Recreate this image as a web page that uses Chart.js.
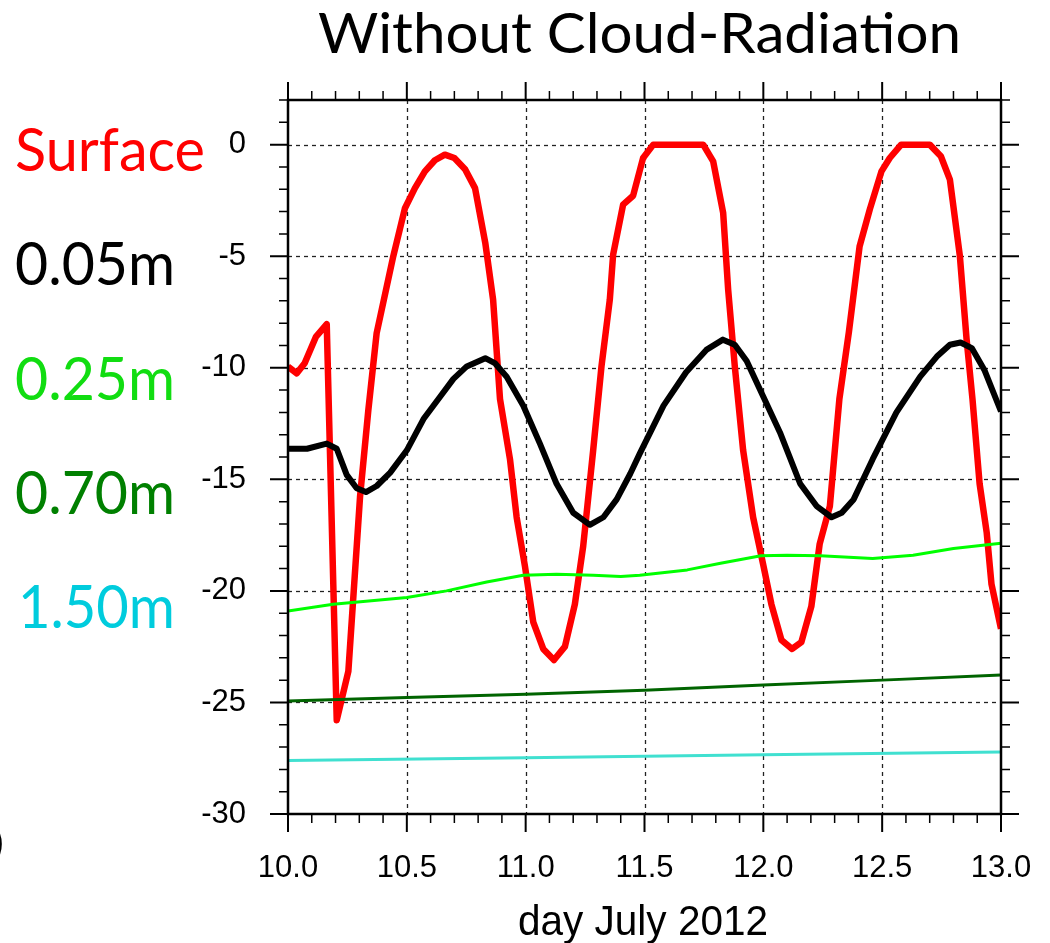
<!DOCTYPE html>
<html>
<head>
<meta charset="utf-8">
<script src="https://cdn.jsdelivr.net/npm/chart.js@4.4.1/dist/chart.umd.min.js"></script>
<style>
  html, body { margin: 0; padding: 0; background: #fff; overflow: hidden; }
  #box { position: relative; width: 1050px; height: 943px; }
  #tempChart { display: block; }
</style>
</head>
<body>
<div id="box"><canvas id="tempChart"></canvas></div>
<script>
// temperature at each depth, day of July 2012
const surfaceDay = [10.000, 10.037, 10.070, 10.118, 10.163, 10.205, 10.254, 10.303, 10.338, 10.373,
  10.443, 10.492, 10.534, 10.576, 10.618, 10.660, 10.700, 10.745, 10.787, 10.830, 10.863, 10.892,
  10.934, 10.962, 10.997, 11.032, 11.074, 11.119, 11.165, 11.207, 11.242, 11.284, 11.319, 11.354,
  11.368, 11.410, 11.452, 11.494, 11.537, 11.747, 11.789, 11.831, 11.852, 11.880, 11.915, 11.957,
  11.999, 12.034, 12.076, 12.121, 12.160, 12.202, 12.237, 12.280, 12.320, 12.360, 12.405, 12.448,
  12.497, 12.532, 12.580, 12.700, 12.747, 12.785, 12.827, 12.855, 12.880, 12.910, 12.940, 12.960, 13.000];
const surfaceTemp = [-9.95, -10.25, -9.8, -8.6, -8.05, -25.8, -23.6, -15.8, -11.9, -8.45,
  -5.0, -2.85, -1.95, -1.2, -0.7, -0.45, -0.6, -1.1, -1.95, -4.4, -6.95, -11.4,
  -14.1, -16.7, -18.9, -21.4, -22.6, -23.1, -22.5, -20.6, -18.0, -13.7, -9.94, -6.95,
  -4.93, -2.69, -2.29, -0.6, 0, 0, -0.75, -3.06, -6.5, -9.94, -13.7, -16.7,
  -18.8, -20.6, -22.2, -22.6, -22.3, -20.7, -17.9, -16.2, -11.4, -8.4, -4.56, -2.9,
  -1.2, -0.6, 0, 0, -0.52, -1.57, -5.0, -8.7, -11.4, -15.2, -17.4, -19.7, -21.7];

const depth005Day = [10.000, 10.080, 10.163, 10.205, 10.247, 10.289, 10.328, 10.373, 10.430, 10.500,
  10.570, 10.640, 10.696, 10.752, 10.830, 10.870, 10.920, 10.990, 11.060, 11.130, 11.200, 11.270,
  11.327, 11.383, 11.440, 11.480, 11.580, 11.675, 11.760, 11.830, 11.880, 11.930, 12.000, 12.070,
  12.155, 12.224, 12.287, 12.330, 12.380, 12.460, 12.560, 12.660, 12.730, 12.785, 12.830, 12.877,
  12.930, 13.000];
const depth005Temp = [-13.63, -13.63, -13.4, -13.63, -14.8, -15.4, -15.57, -15.3, -14.7, -13.7,
  -12.3, -11.3, -10.5, -9.94, -9.57, -9.79, -10.4, -11.7, -13.4, -15.2, -16.5, -17.04,
  -16.7, -15.9, -14.75, -13.85, -11.7, -10.2, -9.2, -8.74, -8.97, -9.7, -11.3, -12.9,
  -15.2, -16.2, -16.7, -16.5, -15.9, -14.1, -12.0, -10.4, -9.5, -8.97, -8.87, -9.12,
  -10.1, -11.96];

const depth025Day = [10.00, 10.19, 10.50, 10.667, 10.836, 10.99, 11.13, 11.284, 11.40, 11.48, 11.68,
  11.82, 11.99, 12.10, 12.24, 12.46, 12.63, 12.80, 13.00];
const depth025Temp = [-20.9, -20.6, -20.3, -20.0, -19.6, -19.3, -19.25, -19.3, -19.36, -19.3, -19.06,
  -18.76, -18.43, -18.4, -18.43, -18.55, -18.4, -18.1, -17.86];

const depth070Day = [10.0, 10.5, 11.0, 11.5, 12.0, 12.5, 13.0];
const depth070Temp = [-24.93, -24.78, -24.63, -24.45, -24.22, -24.0, -23.77];

const depth150Day = [10.0, 11.0, 12.0, 13.0];
const depth150Temp = [-27.6, -27.48, -27.35, -27.22];

const seriesNames = ['Surface', '0.05m', '0.25m', '0.70m', '1.50m'];
const xMajor = [10, 10.5, 11, 11.5, 12, 12.5, 13];
const yMajor = [0, -5, -10, -15, -20, -25, -30];
const chartTitle = 'Without Cloud-Radiation';
const xTitle = 'day July 2012';

const pts = (xs, ys) => xs.map((x, i) => ({ x: x, y: ys[i] }));

// draw text squeezed or stretched to a given width
function fitText(ctx, text, x, y, width, font, color) {
  ctx.save();
  ctx.font = font;
  const w = ctx.measureText(text).width;
  ctx.translate(x, y);
  ctx.scale(width / w, 1);
  ctx.fillStyle = color;
  ctx.textBaseline = 'alphabetic';
  ctx.textAlign = 'left';
  ctx.fillText(text, 0, 0);
  ctx.restore();
}

const frameAndLabels = {
  id: 'frameAndLabels',
  beforeDatasetsDraw(chart) {
    const { ctx, chartArea: a, scales: { x, y } } = chart;
    ctx.save();
    ctx.strokeStyle = '#222';
    ctx.lineWidth = 1.3;
    ctx.setLineDash([4, 4]);
    xMajor.slice(1, -1).forEach(v => {
      const px = Math.round(x.getPixelForValue(v)) + 0.5;
      ctx.beginPath(); ctx.moveTo(px, a.top); ctx.lineTo(px, a.bottom); ctx.stroke();
    });
    yMajor.slice(0, -1).forEach(v => {
      const py = Math.round(y.getPixelForValue(v)) + 0.5;
      ctx.beginPath(); ctx.moveTo(a.left, py); ctx.lineTo(a.right, py); ctx.stroke();
    });
    ctx.restore();
  },
  afterDatasetsDraw(chart) {
    const { ctx, chartArea: a, scales: { x, y } } = chart;
    ctx.save();
    ctx.strokeStyle = '#000';
    ctx.setLineDash([]);
    // tick marks, all pointing outward
    for (let i = 0; i <= 30; i++) {
      const v = 10 + i * 0.1;
      const major = i % 5 === 0;
      const len = major ? 18 : 9;
      const px = x.getPixelForValue(v);
      ctx.lineWidth = major ? 2 : 1.5;
      ctx.beginPath();
      ctx.moveTo(px, a.bottom); ctx.lineTo(px, a.bottom + len);
      ctx.moveTo(px, a.top); ctx.lineTo(px, a.top - len);
      ctx.stroke();
    }
    for (let v = 2; v >= -30; v--) {
      const major = v % 5 === 0;
      const len = major ? 18 : 9;
      const py = y.getPixelForValue(v);
      ctx.lineWidth = major ? 2 : 1.5;
      ctx.beginPath();
      ctx.moveTo(a.left, py); ctx.lineTo(a.left - len, py);
      ctx.moveTo(a.right, py); ctx.lineTo(a.right + len, py);
      ctx.stroke();
    }
    ctx.lineWidth = 2.5;
    ctx.strokeRect(a.left, a.top, a.right - a.left, a.bottom - a.top);
    ctx.restore();

    fitText(ctx, chartTitle, 318, 53, 643, '57px Lato', '#000');
    fitText(ctx, xTitle, 518, 935, 250, '42px "Liberation Sans"', '#000');

    const colors = ['#ff0000', '#000000', '#11dd11', '#008000', '#00ccdd'];
    const baselines = [171, 285, 400, 514, 628];
    const widths = [190, 160, 160, 160, 157];
    const lefts = [15, 15, 15, 15, 18];
    seriesNames.forEach((n, i) => {
      fitText(ctx, n, lefts[i], baselines[i], widths[i], '60px Lato', colors[i]);
    });
    ctx.save();
    ctx.font = '40px "Liberation Sans"';
    ctx.fillStyle = '#000';
    ctx.fillText(')', -9, 855);
    ctx.restore();
  }
};

new Chart(document.getElementById('tempChart'), {
  type: 'line',
  data: {
    datasets: [
      { label: seriesNames[0], data: pts(surfaceDay, surfaceTemp), borderColor: '#ff0000', borderWidth: 6.5, order: 5 },
      { label: seriesNames[1], data: pts(depth005Day, depth005Temp), borderColor: '#000000', borderWidth: 6, order: 4 },
      { label: seriesNames[2], data: pts(depth025Day, depth025Temp), borderColor: '#00ff00', borderWidth: 3, order: 3 },
      { label: seriesNames[3], data: pts(depth070Day, depth070Temp), borderColor: '#006400', borderWidth: 3, order: 2 },
      { label: seriesNames[4], data: pts(depth150Day, depth150Temp), borderColor: '#40e0d0', borderWidth: 3, order: 1 }
    ]
  },
  options: {
    responsive: true,
    maintainAspectRatio: false,
    animation: false,
    layout: { padding: { top: 100, right: 49, bottom: 0, left: 0 } },
    elements: {
      point: { radius: 0 },
      line: { tension: 0, borderJoinStyle: 'round', borderCapStyle: 'butt', fill: false }
    },
    plugins: { legend: { display: false }, tooltip: { enabled: false } },
    scales: {
      x: {
        type: 'linear',
        min: 10, max: 13,
        afterBuildTicks: s => { s.ticks = xMajor.map(v => ({ value: v })); },
        afterFit: s => { s.height = 129; s.paddingLeft = 0; s.paddingRight = 0; },
        grid: { display: false, drawTicks: false },
        border: { display: false },
        ticks: {
          padding: 36, maxRotation: 0, color: '#000',
          font: { family: 'Liberation Sans', size: 31 },
          callback: v => Number(v).toFixed(1)
        }
      },
      y: {
        min: -30, max: 2,
        afterBuildTicks: s => { s.ticks = yMajor.map(v => ({ value: v })); },
        afterFit: s => { s.width = 288; s.paddingTop = 0; s.paddingBottom = 0; },
        grid: { display: false, drawTicks: false },
        border: { display: false },
        ticks: {
          padding: 42, color: '#000',
          font: { family: 'Liberation Sans', size: 31 }
        }
      }
    }
  },
  plugins: [frameAndLabels]
});
</script>
</body>
</html>
